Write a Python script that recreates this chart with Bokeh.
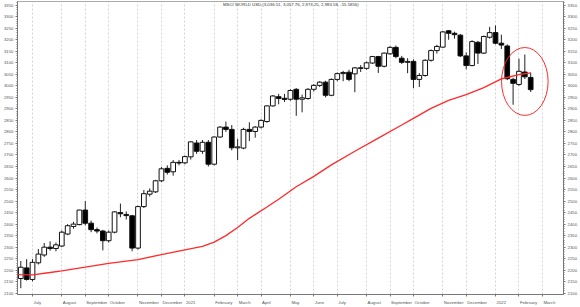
import pandas as pd
from bokeh.plotting import figure
from bokeh.models import FixedTicker, LinearAxis, ColumnDataSource, Label, Range1d
from bokeh.embed import file_html
from bokeh.resources import INLINE

# ---------------- data (weekly candles, MSCI World USD) ----------------
first_week = "2020-06-19"
opens = [2164, 2210, 2160, 2232, 2266, 2300, 2294, 2305, 2357, 2390,
         2398, 2461, 2404, 2376, 2370, 2328, 2365, 2450, 2442, 2436,
         2296, 2476, 2530, 2540, 2588, 2642, 2627, 2668, 2666, 2692,
         2752, 2716, 2755, 2660, 2778, 2821, 2811, 2731, 2730, 2811,
         2802, 2821, 2845, 2913, 2953, 2946, 2942, 2985, 2942, 2945,
         2985, 3002, 3016, 2959, 3028, 3053, 3059, 3052, 3078, 3076,
         3099, 3127, 3085, 3139, 3167, 3120, 3102, 3106, 3028, 3045,
         3111, 3153, 3168, 3239, 3228, 3220, 3130, 3088, 3189, 3142,
         3211, 3231, 3185, 3173, 3028, 3006, 3060, 3036.51]
highs = [2240, 2248, 2248, 2292, 2318, 2325, 2320, 2372, 2400, 2410,
         2462, 2500, 2415, 2385, 2375, 2372, 2455, 2489, 2455, 2440,
         2480, 2548, 2555, 2592, 2648, 2655, 2678, 2678, 2698, 2760,
         2765, 2765, 2765, 2780, 2825, 2845, 2830, 2770, 2818, 2842,
         2825, 2855, 2915, 2960, 2965, 2965, 2985, 2990, 2962, 2990,
         3008, 3020, 3022, 3032, 3058, 3065, 3070, 3082, 3090, 3105,
         3130, 3130, 3145, 3172, 3175, 3130, 3120, 3115, 3055, 3115,
         3158, 3178, 3238, 3242, 3235, 3225, 3145, 3198, 3195, 3218,
         3256, 3262, 3222, 3180, 3035, 3118, 3136, 3057.76]
lows = [2122, 2155, 2152, 2225, 2258, 2285, 2282, 2300, 2352, 2380,
        2395, 2395, 2365, 2360, 2286, 2320, 2360, 2430, 2420, 2282,
        2290, 2470, 2520, 2535, 2582, 2615, 2610, 2655, 2660, 2680,
        2705, 2705, 2650, 2655, 2775, 2800, 2720, 2678, 2725, 2760,
        2775, 2815, 2840, 2910, 2920, 2930, 2935, 2870, 2885, 2940,
        2975, 2995, 2950, 2955, 3020, 3020, 3020, 2972, 3060, 3070,
        3095, 3056, 3080, 3135, 3120, 3095, 3055, 2990, 2995, 3040,
        3105, 3140, 3165, 3200, 3205, 3125, 3072, 3085, 3095, 3138,
        3205, 3180, 3160, 3025, 2918, 3000, 3030, 2973.25]
closes = [2213, 2160, 2234, 2270, 2300, 2294, 2310, 2365, 2393, 2400,
          2461, 2404, 2376, 2370, 2328, 2365, 2453, 2445, 2437, 2296,
          2476, 2532, 2543, 2588, 2640, 2625, 2668, 2665, 2693, 2757,
          2716, 2755, 2660, 2778, 2821, 2811, 2731, 2735, 2811, 2802,
          2821, 2850, 2913, 2956, 2945, 2941, 2980, 2942, 2948, 2985,
          3002, 3016, 2959, 3028, 3053, 3058, 3028, 3078, 3076, 3100,
          3127, 3085, 3142, 3167, 3127, 3102, 3106, 3028, 3045, 3111,
          3153, 3171, 3234, 3228, 3222, 3130, 3088, 3192, 3142, 3214,
          3231, 3185, 3177, 3031, 3011, 3063, 3039, 2983.58]

# moving average (week index, value)
ma_week = [-1, 0, 2, 5, 7, 11, 15, 20, 24, 28, 31, 33, 35, 37, 39, 42, 44,
           47, 50, 53, 57, 61, 65, 67, 70, 73, 76, 79, 82, 85, 87]
ma_value = [2182, 2181, 2180, 2190, 2197, 2213, 2230, 2246, 2268, 2288, 2303,
            2322, 2350, 2385, 2425, 2474, 2508, 2562, 2607, 2657, 2716, 2773,
            2830, 2859, 2902, 2937, 2962, 2992, 3030, 3049, 3056]

y_ticks = list(range(2100, 3351, 50))
y_minor = list(range(2090, 3361, 10))
month_names = ["", "", "February", "March", "April", "May", "June", "July",
               "August", "September", "October", "November", "December"]
title_text = "MSCI WORLD USD (3,036.51, 3,057.76, 2,973.25, 2,983.58, -55.5856)"

# ---------------- layout constants ----------------
W, H = 580, 307
BL, BR, BT, BB = 17, 17, 1, 9
X0, X1 = -0.56, 92.6
Y_TOP = 3366
PX_PER_VAL = 0.2336
Y0 = Y_TOP - (H - BT - BB) / PX_PER_VAL
FONT = "Liberation Sans"
FS_PX = 4.3
FS = f"{FS_PX}px"
TXT = "#555555"
AX = "#777777"

# Arial/Liberation Sans advance widths (1/1000 em) for left-aligning month labels
ADV = {'J': 500, 'u': 556, 'n': 556, 'e': 556, 'l': 222, 'y': 500, 'A': 667,
       'g': 556, 's': 500, 't': 278, 'S': 667, 'p': 556, 'm': 833, 'b': 556,
       'r': 333, 'O': 778, 'c': 500, 'o': 556, 'N': 722, 'v': 500, 'D': 722,
       'F': 611, 'a': 556, 'M': 833, 'h': 556, 'i': 222}

def text_w(s):
    return sum(ADV.get(ch, 556) for ch in s) / 1000.0 * FS_PX

# ---------------- derived ----------------
n = len(closes)
weeks = pd.date_range(first_week, periods=n + 6, freq="W-FRI")
month_pos, month_lbl = [], []
for k in range(1, len(weeks)):
    if weeks[k].month != weeks[k - 1].month:
        month_pos.append(k)
        m = weeks[k].month
        month_lbl.append(str(weeks[k].year) if m == 1 else month_names[m])

px_per_unit = (W - BL - BR) / (X1 - X0)
label_pos = [pos + (1.0 + text_w(t) / 2.0) / px_per_unit for pos, t in zip(month_pos, month_lbl)]

idx = list(range(n))
up = [c >= o for o, c in zip(opens, closes)]
src = ColumnDataSource(dict(
    x=idx, high=highs, low=lows,
    top=[max(o, c) for o, c in zip(opens, closes)],
    bottom=[min(o, c) for o, c in zip(opens, closes)],
    fill=["white" if u else "black" for u in up],
))

p = figure(width=W, height=H, output_backend="svg", toolbar_location=None,
           x_range=Range1d(X0, X1), y_range=Range1d(Y0, Y_TOP),
           min_border_left=BL, min_border_right=BR, min_border_top=BT,
           min_border_bottom=BB)
p.outline_line_color = "#aaaaaa"
p.background_fill_color = "white"
p.border_fill_color = "white"

p.ygrid.visible = False
p.xgrid.ticker = FixedTicker(ticks=month_pos)
p.xgrid.grid_line_color = "#d4d4d4"
p.xgrid.grid_line_dash = "2 2"

# candles
p.segment(x0="x", y0="low", x1="x", y1="high", source=src, line_color="#222222", line_width=1)
p.vbar(x="x", width=0.8, top="top", bottom="bottom", source=src,
       fill_color="fill", line_color="#111111", line_width=1)

# moving average
p.line(ma_week, ma_value, line_color="#ff2a2a", line_width=1.3)

# highlight ellipse
ell_x, ell_y, ell_w, ell_h = 86.0, 3019, 7.95, 295
p.ellipse(x=ell_x, y=ell_y, width=ell_w, height=ell_h, fill_color=None,
          line_color="#ff2a2a", line_width=1)

# axes
def style_y(ax):
    ax.ticker = FixedTicker(ticks=y_ticks, minor_ticks=y_minor)
    ax.major_label_text_font = FONT
    ax.major_label_text_font_size = FS
    ax.major_label_text_color = TXT
    ax.axis_line_color = AX
    ax.major_tick_line_color = AX
    ax.minor_tick_line_color = AX
    ax.major_tick_out = 2
    ax.major_tick_in = 0
    ax.minor_tick_out = 1
    ax.minor_tick_in = 0
    ax.major_label_standoff = 2

style_y(p.yaxis[0])
ax_r = LinearAxis()
style_y(ax_r)
p.add_layout(ax_r, "right")

xa = p.xaxis[0]
xa.ticker = FixedTicker(ticks=label_pos, minor_ticks=month_pos)
xa.major_label_overrides = {lp: t for lp, t in zip(label_pos, month_lbl)}
xa.major_label_text_font = FONT
xa.major_label_text_font_size = FS
xa.major_label_text_color = TXT
xa.major_label_text_line_height = 1.0
xa.major_label_standoff = 3
xa.axis_line_color = AX
xa.major_tick_line_color = None
xa.major_tick_out = 0
xa.major_tick_in = 0
xa.minor_tick_line_color = AX
xa.minor_tick_out = 2
xa.minor_tick_in = 0

p.add_layout(Label(x=46.07, y=3352, text=title_text, text_align="center",
                   text_baseline="middle", text_font=FONT, text_font_size=FS,
                   text_color="#333333"))

open("out.html", "w").write(file_html(p, INLINE))
